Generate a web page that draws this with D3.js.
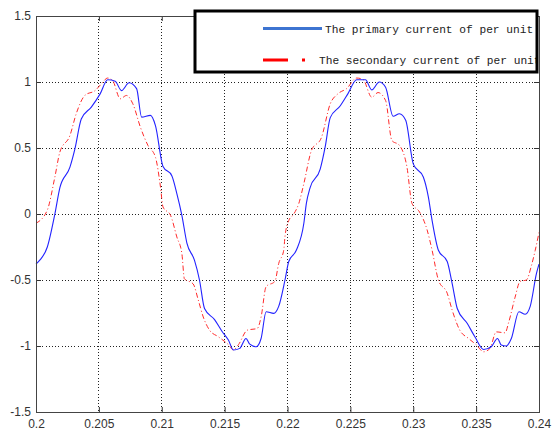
<!DOCTYPE html>
<html>
<head>
<meta charset="utf-8">
<script src="https://cdn.jsdelivr.net/npm/d3@7"></script>
<style>
    body { margin: 0; background: #fff; }
    svg { display: block; }
</style>
</head>
<body>
<svg id="chart" width="552" height="432"></svg>
<script>
// time (s) and per-unit current of the primary side
const tPrimary = [0.2000, 0.2003, 0.2009, 0.2015, 0.2019, 0.2027, 0.2031, 0.2036, 0.2044, 0.2051,
    0.2057, 0.2063, 0.2068, 0.2074, 0.2080, 0.2084, 0.2091, 0.2095, 0.2101, 0.2108,
    0.2112, 0.2116, 0.2120, 0.2126, 0.2130, 0.2134, 0.2142, 0.2148, 0.2153, 0.2157,
    0.2162, 0.2167, 0.2170, 0.2175, 0.2179, 0.2183, 0.2189, 0.2193, 0.2198, 0.2201,
    0.2207, 0.2213, 0.2215, 0.2218, 0.2226, 0.2230, 0.2234, 0.2242, 0.2248, 0.2255,
    0.2262, 0.2267, 0.2273, 0.2278, 0.2284, 0.2289, 0.2294, 0.2300, 0.2308, 0.2312,
    0.2315, 0.2320, 0.2327, 0.2331, 0.2335, 0.2343, 0.2349, 0.2356, 0.2362, 0.2367,
    0.2370, 0.2374, 0.2378, 0.2384, 0.2389, 0.2393, 0.2398, 0.2400];
const iPrimary = [-0.38, -0.35, -0.25, 0.0, 0.20, 0.355, 0.495, 0.72, 0.81, 0.91,
    1.017, 1.006, 0.935, 0.994, 0.95, 0.734, 0.747, 0.67, 0.36, 0.29,
    0.155, -0.01, -0.22, -0.35, -0.50, -0.716, -0.80, -0.89, -0.955, -1.03,
    -1.018, -0.943, -0.986, -1.006, -0.943, -0.74, -0.753, -0.70, -0.50, -0.36,
    -0.275, -0.07, 0.08, 0.20, 0.34, 0.51, 0.73, 0.82, 0.91, 1.017,
    1.017, 0.94, 1.0, 0.96, 0.74, 0.76, 0.71, 0.38, 0.28, 0.13,
    -0.05, -0.275, -0.36, -0.53, -0.716, -0.83, -0.93, -1.026, -1.006, -0.943,
    -0.993, -1.0, -0.943, -0.74, -0.76, -0.70, -0.45, -0.38];

// secondary side, dash-dot curve
const tSecondary = [0.2000, 0.2009, 0.2015, 0.2019, 0.2027, 0.2032, 0.2039, 0.2047, 0.2052, 0.2057,
    0.2061, 0.2067, 0.2072, 0.2077, 0.2083, 0.2089, 0.2095, 0.2099, 0.2101, 0.2107,
    0.2112, 0.2116, 0.2118, 0.2125, 0.2129, 0.2133, 0.2138, 0.2145, 0.2153, 0.2157,
    0.2161, 0.2168, 0.2176, 0.2179, 0.2183, 0.2190, 0.2193, 0.2197, 0.2198, 0.2201,
    0.2205, 0.2209, 0.2213, 0.2219, 0.2227, 0.2234, 0.2240, 0.2247, 0.2255, 0.2260,
    0.2267, 0.2272, 0.2278, 0.2283, 0.2289, 0.2295, 0.2299, 0.2305, 0.2311, 0.2315,
    0.2320, 0.2327, 0.2331, 0.2337, 0.2344, 0.2350, 0.2356, 0.2361, 0.2366, 0.2373,
    0.2376, 0.2381, 0.2385, 0.2390, 0.2394, 0.2397, 0.2400];
const iSecondary = [-0.07, 0.03, 0.28, 0.47, 0.595, 0.76, 0.90, 0.935, 0.986, 1.03,
    1.01, 0.873, 0.898, 0.835, 0.658, 0.52, 0.43, 0.204, 0.053, -0.01,
    -0.174, -0.30, -0.49, -0.53, -0.65, -0.78, -0.88, -0.93, -0.99, -1.03,
    -0.99, -0.88, -0.867, -0.78, -0.55, -0.51, -0.375, -0.275, -0.17, -0.05,
    0.0, 0.08, 0.23, 0.48, 0.58, 0.835, 0.91, 0.95, 1.03, 1.02,
    0.885, 0.92, 0.86, 0.557, 0.52, 0.355, 0.08, 0.015, -0.12, -0.275,
    -0.5, -0.60, -0.73, -0.88, -0.943, -0.99, -1.044, -1.018, -0.893, -0.90,
    -0.817, -0.63, -0.51, -0.50, -0.39, -0.275, -0.14];

const xTicks = [0.2, 0.205, 0.21, 0.215, 0.22, 0.225, 0.23, 0.235, 0.24];
const xTickLabels = ["0.2", "0.205", "0.21", "0.215", "0.22", "0.225", "0.23", "0.235", "0.24"];
const yTicks = [-1.5, -1, -0.5, 0, 0.5, 1, 1.5];
const yTickLabels = ["-1.5", "-1", "-0.5", "0", "0.5", "1", "1.5"];
const legendLabels = ["The primary current of per unit", "The secondary current of per unit"];

// plot box in pixels
const box = { left: 36, right: 539, top: 16, bottom: 412 };

const svg = d3.select('#chart');

const x = d3.scaleLinear().domain([0.2, 0.24]).range([box.left, box.right]);
const y = d3.scaleLinear().domain([-1.5, 1.5]).range([box.bottom, box.top]);

// dotted grid (inner ticks only, the edges are the box)
svg.append('g')
    .selectAll('line')
    .data(xTicks.slice(1, -1))
    .join('line')
    .attr('x1', d => x(d)).attr('x2', d => x(d))
    .attr('y1', box.top).attr('y2', box.bottom)
    .attr('stroke', '#222').attr('stroke-width', 1)
    .attr('stroke-dasharray', '1,2.2')
    .attr('shape-rendering', 'crispEdges');
svg.append('g')
    .selectAll('line')
    .data(yTicks.slice(1, -1))
    .join('line')
    .attr('x1', box.left).attr('x2', box.right)
    .attr('y1', d => y(d)).attr('y2', d => y(d))
    .attr('stroke', '#222').attr('stroke-width', 1)
    .attr('stroke-dasharray', '1,2.2')
    .attr('shape-rendering', 'crispEdges');

// the two curves
const line = d3.line()
    .x(d => x(d[0]))
    .y(d => y(d[1]))
    .curve(d3.curveMonotoneX);

svg.append('path')
    .datum(d3.zip(tSecondary, iSecondary))
    .attr('d', line)
    .attr('fill', 'none')
    .attr('stroke', '#ff2a2a')
    .attr('stroke-width', 1)
    .attr('stroke-dasharray', '5,2.5,1,2.5');

svg.append('path')
    .datum(d3.zip(tPrimary, iPrimary))
    .attr('d', line)
    .attr('fill', 'none')
    .attr('stroke', '#2222ff')
    .attr('stroke-width', 1.1);

// axes: ticks point inwards on all four sides, labels only left/bottom
const xAxis = d3.axisBottom(x)
    .tickValues(xTicks)
    .tickFormat((d, i) => xTickLabels[i])
    .tickSizeInner(-5).tickSizeOuter(0).tickPadding(7);
const yAxis = d3.axisLeft(y)
    .tickValues(yTicks)
    .tickFormat((d, i) => yTickLabels[i])
    .tickSizeInner(-5).tickSizeOuter(0).tickPadding(5);

function styleAxis(g) {
    g.select('.domain').remove();
    g.selectAll('.tick line').attr('stroke', '#333');
    g.selectAll('.tick text')
        .attr('fill', '#333')
        .attr('font-family', '"Liberation Sans", Arial, sans-serif')
        .attr('font-size', 12);
}

svg.append('g')
    .attr('transform', 'translate(0,' + box.bottom + ')')
    .call(xAxis).call(styleAxis);
svg.append('g')
    .attr('transform', 'translate(' + box.left + ',0)')
    .call(yAxis).call(styleAxis);
svg.append('g')
    .attr('transform', 'translate(0,' + box.top + ')')
    .call(d3.axisTop(x).tickValues(xTicks).tickFormat('').tickSizeInner(-5).tickSizeOuter(0))
    .call(styleAxis);
svg.append('g')
    .attr('transform', 'translate(' + box.right + ',0)')
    .call(d3.axisRight(y).tickValues(yTicks).tickFormat('').tickSizeInner(-5).tickSizeOuter(0))
    .call(styleAxis);

svg.append('rect')
    .attr('x', box.left).attr('y', box.top)
    .attr('width', box.right - box.left).attr('height', box.bottom - box.top)
    .attr('fill', 'none').attr('stroke', '#444').attr('stroke-width', 1)
    .attr('shape-rendering', 'crispEdges');

// legend box, text is clipped by its right border
const legend = { x: 195, y: 11, w: 342, h: 61 };

svg.append('clipPath').attr('id', 'legendClip')
    .append('rect')
    .attr('x', legend.x).attr('y', legend.y)
    .attr('width', legend.w).attr('height', legend.h);

const lg = svg.append('g');
lg.append('rect')
    .attr('x', legend.x).attr('y', legend.y)
    .attr('width', legend.w).attr('height', legend.h)
    .attr('fill', '#fff');

lg.append('line')
    .attr('x1', 263).attr('x2', 322).attr('y1', 28.5).attr('y2', 28.5)
    .attr('stroke', '#3d74d1').attr('stroke-width', 3);
lg.append('line')
    .attr('x1', 263).attr('x2', 306).attr('y1', 60).attr('y2', 60)
    .attr('stroke', '#ff0000').attr('stroke-width', 3)
    .attr('stroke-dasharray', '25,14,3,100');

lg.append('g')
    .attr('clip-path', 'url(#legendClip)')
    .selectAll('text')
    .data(legendLabels)
    .join('text')
    .attr('x', (d, i) => i === 0 ? 325 : 319)
    .attr('y', (d, i) => i === 0 ? 32.5 : 64)
    .attr('font-family', '"Liberation Mono", "DejaVu Sans Mono", monospace')
    .attr('font-size', 11.2)
    .attr('fill', '#222')
    .text(d => d);

lg.append('rect')
    .attr('x', legend.x).attr('y', legend.y)
    .attr('width', legend.w).attr('height', legend.h)
    .attr('fill', 'none').attr('stroke', '#000').attr('stroke-width', 3);
</script>
</body>
</html>
